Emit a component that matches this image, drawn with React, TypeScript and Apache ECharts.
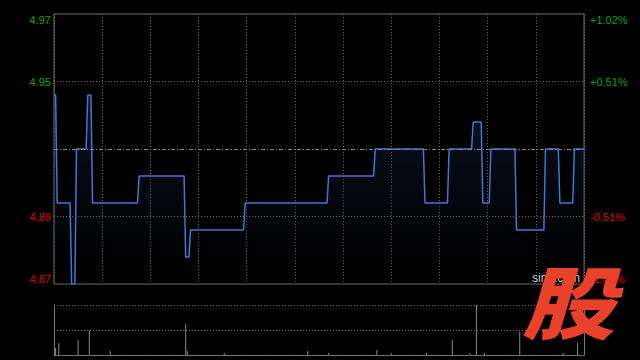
import React, { useEffect, useRef } from "react";
import * as echarts from "echarts";

// ---- data ----
const prevClose = 4.92;
// price as [price, number of consecutive minutes]
const priceRuns: [number, number][] = [
  [4.94, 2], [4.9, 9], [4.87, 3], [4.92, 7], [4.94, 3], [4.9, 29], [4.91, 29],
  [4.88, 3], [4.89, 34], [4.9, 52], [4.91, 29], [4.92, 31], [4.9, 15], [4.92, 15],
  [4.93, 6], [4.9, 5], [4.92, 16], [4.89, 18], [4.92, 9], [4.9, 9], [4.92, 7],
];
// volume by minute (other minutes ~0)
const volumePoints: [string, number][] = [
  ["09:31", 7], ["09:33", 12], ["09:45", 15], ["09:52", 25], ["10:05", 4],
  ["10:52", 31], ["10:53", 4], ["11:16", 2], ["13:08", 4], ["13:21", 2],
  ["13:51", 5], ["14:00", 2], ["14:22", 2], ["14:38", 15], ["14:49", 2],
  ["14:53", 50], ["14:58", 2], ["15:20", 23], ["15:47", 2], ["15:56", 12],
];
const sessions: [string, string][] = [["09:30", "12:00"], ["13:01", "16:00"]];
const priceTicks = [4.87, 4.895, 4.945, 4.97];
const priceTickLabels = ["4.87", "4.89", "4.95", "4.97"];
const pctTickLabels = ["-1.02%", "-0.51%", "+0.51%", "+1.02%"];
const gridLevels = [4.895, 4.945];
const priceMin = 4.87;
const priceMax = 4.97;

function toMin(t: string) {
  const [h, m] = t.split(":").map(Number);
  return h * 60 + m;
}
function pad(n: number) {
  return n < 10 ? "0" + n : "" + n;
}
function buildTimes() {
  const out: string[] = [];
  for (const [a, b] of sessions) {
    for (let m = toMin(a); m <= toMin(b); m++) out.push(pad(Math.floor(m / 60)) + ":" + pad(m % 60));
  }
  return out;
}

export default function App() {
  const ref = useRef<HTMLDivElement>(null);
  useEffect(() => {
    if (!ref.current) return;
    document.body.style.margin = "0";
    const chart = echarts.init(ref.current, null, { renderer: "svg" });
    const times = buildTimes();
    const prices: number[] = [];
    priceRuns.forEach(([p, n]) => { for (let k = 0; k < n; k++) prices.push(p); });
    const vols: (number | null)[] = times.map(() => null);
    volumePoints.forEach(([t, v]) => { const i = times.indexOf(t); if (i >= 0) vols[i] = v; });

    const labelFor = (arr: string[]) => (v: any) => {
      const i = priceTicks.findIndex((t) => Math.abs(t - Number(v)) < 1e-6);
      return i >= 0 ? arr[i] : "";
    };
    const colorFor = (v: any) => (Number(v) > prevClose ? "#14a014" : "#e00000");
    const gridDot = { color: "#6e6e6e", type: [1, 2] as any, width: 1 };

    chart.setOption({
      animation: false,
      backgroundColor: "#000",
      grid: [
        { left: 54, top: 14, width: 530, height: 270, show: true, borderColor: "#707070", borderWidth: 1, backgroundColor: "transparent" },
        { left: 54, top: 305, width: 530, height: 50 },
      ],
      xAxis: [
        {
          type: "category", data: times, boundaryGap: false, gridIndex: 0,
          axisLine: { show: false }, axisTick: { show: false, interval: 29 }, axisLabel: { show: false },
          splitLine: { show: true, interval: 29, lineStyle: gridDot },
        },
        {
          type: "category", data: times, boundaryGap: false, gridIndex: 1,
          axisLine: { show: true, lineStyle: { color: "#777", type: [3, 1] as any } },
          axisTick: { show: false }, axisLabel: { show: false }, splitLine: { show: false },
        },
      ],
      yAxis: [
        {
          type: "value", gridIndex: 0, min: priceMin, max: priceMax, position: "left",
          axisLine: { show: false }, axisTick: { show: false }, splitLine: { show: false },
          axisLabel: {
            customValues: priceTicks, formatter: labelFor(priceTickLabels), color: colorFor,
            fontSize: 11, fontFamily: "Liberation Sans, Arial, sans-serif", margin: 3,
            verticalAlignMinLabel: "bottom", verticalAlignMaxLabel: "top",
          },
        },
        {
          type: "value", gridIndex: 0, min: priceMin, max: priceMax, position: "right",
          axisLine: { show: false }, axisTick: { show: false }, splitLine: { show: false },
          axisLabel: {
            customValues: priceTicks, formatter: labelFor(pctTickLabels), color: colorFor,
            fontSize: 11, fontFamily: "Liberation Sans, Arial, sans-serif", margin: 6,
            verticalAlignMinLabel: "bottom", verticalAlignMaxLabel: "top",
          },
        },
        {
          type: "value", gridIndex: 1, min: 0, max: 50, interval: 25, position: "left",
          axisLine: { show: true, lineStyle: { color: "#777" } }, axisTick: { show: false }, axisLabel: { show: false },
          splitLine: { show: true, lineStyle: gridDot },
        },
        {
          type: "value", gridIndex: 1, min: 0, max: 50, position: "right",
          axisLine: { show: true, lineStyle: { color: "#777" } }, axisTick: { show: false }, axisLabel: { show: false },
          splitLine: { show: false },
        },
      ],
      series: [
        {
          type: "line", xAxisIndex: 0, yAxisIndex: 0, data: prices, symbol: "none", silent: true,
          lineStyle: { color: "#3f78d6", width: 1.5 },
          areaStyle: {
            color: new echarts.graphic.LinearGradient(0, 0, 0, 1, [
              { offset: 0, color: "rgba(28,50,95,0.6)" },
              { offset: 1, color: "rgba(0,0,0,0.2)" },
            ]),
          },
          markLine: {
            silent: true, symbol: "none", label: { show: false }, precision: 4,
            data: [
              ...gridLevels.map((v) => ({ yAxis: v, lineStyle: gridDot })),
              { yAxis: prevClose, lineStyle: { color: "#8a8a8a", type: [4, 2, 1, 2], width: 1 } },
            ],
          },
        },
        {
          type: "bar", xAxisIndex: 1, yAxisIndex: 2, data: vols, barWidth: 1, silent: true,
          itemStyle: { color: "#8c8c8c" },
        },
      ],
      graphic: [
        {
          type: "text", left: 532, top: 272, z: 50, silent: true,
          style: { text: "sina.com", fill: "#c8c8c8", font: "12px Liberation Sans, Arial, sans-serif" },
        },
        {
          type: "text", x: 522, y: 259, z: 100, silent: true, scaleX: 1.08, scaleY: 0.92,
          style: {
            text: "股", fill: "#ea412b",
            font: "italic 900 86px 'Noto Sans CJK SC', sans-serif",
          },
        },
      ],
    });
    return () => chart.dispose();
  }, []);
  return <div ref={ref} style={{ position: "fixed", left: 0, top: 0, width: 640, height: 360, background: "#000" }} />;
}
